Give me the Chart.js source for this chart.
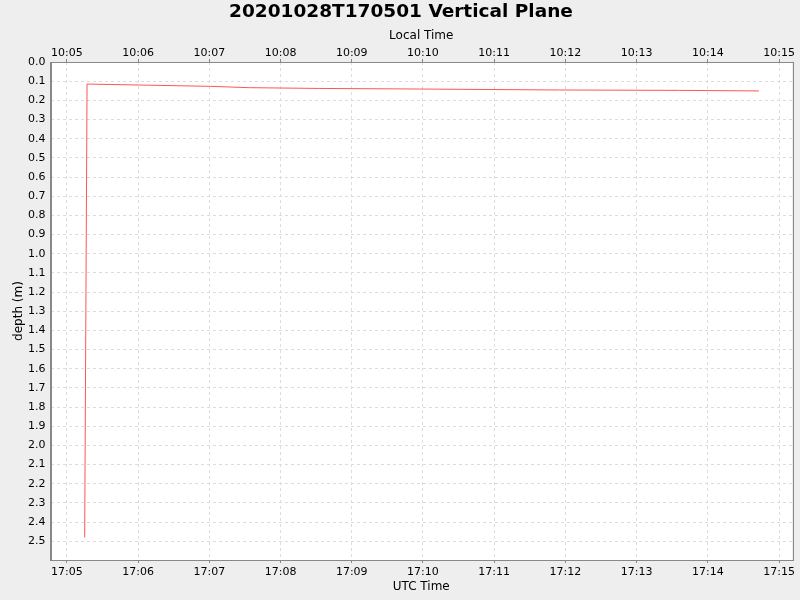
<!DOCTYPE html>
<html>
<head>
<meta charset="utf-8">
<script src="https://cdn.jsdelivr.net/npm/chart.js@4.4.1/dist/chart.umd.min.js"></script>
<style>
html,body{margin:0;padding:0;background:#eeeeee;}
#wrap{width:800px;height:600px;}
</style>
</head>
<body>
<div id="wrap"><canvas id="c" width="800" height="600"></canvas></div>
<script>
// Time in seconds after 17:00:00 UTC
const utcSeconds = [315, 317, 360, 421, 454, 513, 597, 715, 816, 883];
const depthM     = [2.48, 0.115, 0.120, 0.127, 0.134, 0.138, 0.141, 0.146, 0.148, 0.151];

const xTickSeconds = [300, 360, 420, 480, 540, 600, 660, 720, 780, 840, 900];
const utcTickLabels = ['17:05','17:06','17:07','17:08','17:09','17:10','17:11','17:12','17:13','17:14','17:15'];
const localTickLabels = ['10:05','10:06','10:07','10:08','10:09','10:10','10:11','10:12','10:13','10:14','10:15'];
const yTicks = [0.0,0.1,0.2,0.3,0.4,0.5,0.6,0.7,0.8,0.9,1.0,1.1,1.2,1.3,1.4,1.5,1.6,1.7,1.8,1.9,2.0,2.1,2.2,2.3,2.4,2.5];
const chartTitle = '20201028T170501 Vertical Plane';

const X_MIN = 286.2, X_MAX = 910.9, Y_MIN = 0, Y_MAX = 2.598;

const FONT = "'DejaVu Sans', sans-serif";

const borderPlugin = {
  id: 'plotBg',
  beforeDraw(chart) {
    const {ctx, chartArea: a} = chart;
    ctx.save();
    ctx.fillStyle = '#ffffff';
    ctx.fillRect(a.left, a.top, a.right - a.left, a.bottom - a.top);
    ctx.restore();
  },
  afterDraw(chart) {
    const {ctx, chartArea: a} = chart;
    ctx.save();
    ctx.strokeStyle = '#888888';
    ctx.lineWidth = 1;
    ctx.strokeRect(Math.round(a.left) + 0.5, Math.round(a.top) + 0.5,
                   Math.round(a.right - a.left), Math.round(a.bottom - a.top));
    // chart title, centred on the full canvas width
    ctx.fillStyle = '#000000';
    ctx.font = "bold 18.5px " + FONT;
    ctx.textAlign = 'center';
    ctx.textBaseline = 'middle';
    ctx.fillText(chartTitle, chart.width / 2 + 1, 12.5);
    ctx.restore();
  }
};

function labelFor(arr) {
  return function(v) {
    const i = xTickSeconds.indexOf(Math.round(v));
    return i >= 0 ? arr[i] : '';
  };
}

new Chart(document.getElementById('c'), {
  type: 'line',
  data: {
    datasets: [{
      data: utcSeconds.map((t, i) => ({x: t, y: depthM[i]})),
      borderColor: '#ff5555',
      borderWidth: 1,
      pointRadius: 0,
      tension: 0,
      fill: false
    }]
  },
  options: {
    responsive: false,
    animation: false,
    layout: {padding: {left: 0, right: 8, top: 0, bottom: 0}},
    plugins: {
      legend: {display: false},
      tooltip: {enabled: false},
      title: {display: false}
    },
    scales: {
      x: {
        type: 'linear',
        position: 'bottom',
        min: X_MIN, max: X_MAX,
        afterBuildTicks(s) { s.ticks = xTickSeconds.map(v => ({value: v})); },
        afterFit(s) { s.height = 40; },
        ticks: {
          callback: labelFor(utcTickLabels),
          color: '#000000',
          font: {family: FONT, size: 11},
          padding: 3,
          maxRotation: 0,
          autoSkip: false
        },
        grid: {color: '#dddddd', tickColor: '#888888', tickLength: 3, lineWidth: 1},
        border: {display: true, color: '#888888', dash: [3, 3]},
        title: {
          display: true, text: 'UTC Time', color: '#000000',
          font: {family: FONT, size: 12}, padding: {top: 0, bottom: 6}
        }
      },
      x2: {
        type: 'linear',
        position: 'top',
        min: X_MIN, max: X_MAX,
        afterBuildTicks(s) { s.ticks = xTickSeconds.map(v => ({value: v})); },
        afterFit(s) { s.height = 62; },
        ticks: {
          callback: labelFor(localTickLabels),
          color: '#000000',
          font: {family: FONT, size: 11},
          padding: -1,
          maxRotation: 0,
          autoSkip: false
        },
        grid: {drawOnChartArea: false, tickColor: '#888888', tickLength: 3},
        border: {display: true, color: '#888888'},
        title: {
          display: true, text: 'Local Time', color: '#000000',
          font: {family: FONT, size: 12}, padding: {top: 28.6, bottom: 0}
        }
      },
      y: {
        type: 'linear',
        position: 'left',
        reverse: true,
        min: Y_MIN, max: Y_MAX,
        afterBuildTicks(s) { s.ticks = yTicks.map(v => ({value: v})); },
        afterFit(s) { s.width = 50.5; },
        ticks: {
          callback: v => v.toFixed(1),
          color: '#000000',
          font: {family: FONT, size: 11},
          padding: 5,
          autoSkip: false
        },
        grid: {color: '#dddddd', drawTicks: false, lineWidth: 1},
        border: {display: true, color: '#888888', dash: [3, 3]},
        title: {
          display: true, text: 'depth (m)', color: '#000000',
          font: {family: FONT, size: 12}, padding: {top: 12, bottom: 0}
        }
      }
    }
  },
  plugins: [borderPlugin]
});
</script>
</body>
</html>
